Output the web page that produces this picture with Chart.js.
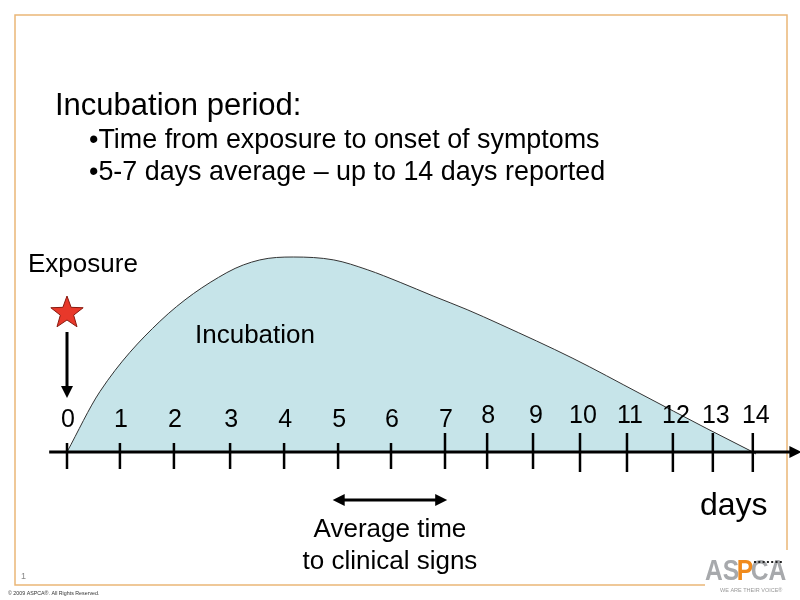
<!DOCTYPE html>
<html>
<head>
<meta charset="utf-8">
<script src="https://cdn.jsdelivr.net/npm/chart.js"></script>
<style>
  body { margin: 0; background: #fff; }
  #wrap { width: 800px; height: 600px; }
</style>
</head>
<body>
<div id="wrap"><canvas id="myChart" width="800" height="600"></canvas></div>
<script>
// day labels and where each one sits along the slide axis (axis units, day 0 = 0)
var dayLabels = ['0', '1', '2', '3', '4', '5', '6', '7', '8', '9', '10', '11', '12', '13', '14'];
var dayPos = [0, 0.98, 1.98, 3.02, 4.02, 5.02, 6.0, 7.0, 7.78, 8.63, 9.5, 10.37, 11.22, 11.96, 12.7];

// incubation curve (relative level, peak = 1)
var curveX = [0, 0.61, 1.72, 2.96, 3.57, 4.19, 4.94, 5.56, 6.17, 6.78, 7.41, 8.02, 9.37, 10.61, 11.85, 12.7];
var curveY = [0, 0.31, 0.67, 0.92, 0.985, 1.0, 0.985, 0.935, 0.87, 0.80, 0.73, 0.655, 0.48, 0.30, 0.12, 0];

// second stroke on the tail of the curve
var tailX = [10.5, 12.76];
var tailY = [0.29, -0.01];

// axis line extent and the "average time" span (days 5 to 7)
var axisX = [-0.33, 13.6];
var avgSpan = [4.92, 7.04];

var FONT = 'Arial, "Liberation Sans", sans-serif';

function toPoints(xs, ys) {
    var pts = [];
    for (var i = 0; i < xs.length; i++) {
        pts.push({x: xs[i], y: ys[i]});
    }
    return pts;
}

function drawStar(ctx, cx, cy, R, r) {
    ctx.save();
    ctx.beginPath();
    for (var i = 0; i < 10; i++) {
        var ang = -Math.PI / 2 + i * Math.PI / 5;
        var rad = (i % 2 == 0) ? R : r;
        var px = cx + rad * Math.cos(ang);
        var py = cy + rad * Math.sin(ang);
        if (i == 0) ctx.moveTo(px, py); else ctx.lineTo(px, py);
    }
    ctx.closePath();
    ctx.fillStyle = '#e8382a';
    ctx.fill();
    ctx.strokeStyle = '#8a1a10';
    ctx.lineWidth = 1;
    ctx.stroke();
    ctx.restore();
}

function arrowHead(ctx, x, y, dir, len, half) {
    // dir: 'right', 'left', 'down'
    ctx.beginPath();
    if (dir == 'right') { ctx.moveTo(x, y); ctx.lineTo(x - len, y - half); ctx.lineTo(x - len, y + half); }
    if (dir == 'left')  { ctx.moveTo(x, y); ctx.lineTo(x + len, y - half); ctx.lineTo(x + len, y + half); }
    if (dir == 'down')  { ctx.moveTo(x, y); ctx.lineTo(x - half, y - len); ctx.lineTo(x + half, y - len); }
    ctx.closePath();
    ctx.fillStyle = '#000';
    ctx.fill();
}

var slidePlugin = {
    id: 'slide',
    beforeDraw: function(chart) {
        var ctx = chart.ctx;
        ctx.save();
        ctx.fillStyle = '#fff';
        ctx.fillRect(0, 0, 800, 600);
        // orange frame, open at the logo corner
        ctx.strokeStyle = '#eab677';
        ctx.lineWidth = 1.5;
        ctx.beginPath();
        ctx.moveTo(705, 585);
        ctx.lineTo(15, 585);
        ctx.lineTo(15, 15);
        ctx.lineTo(787, 15);
        ctx.lineTo(787, 550);
        ctx.stroke();

        ctx.fillStyle = '#000';
        ctx.textAlign = 'left';
        ctx.textBaseline = 'alphabetic';
        ctx.font = '31px ' + FONT;
        ctx.fillText('Incubation period:', 55, 115);
        ctx.font = '26.9px ' + FONT;
        ctx.fillText('\u2022Time from exposure to onset of symptoms', 89, 148);
        ctx.fillText('\u20225-7 days average \u2013 up to 14 days reported', 89, 180);
        ctx.restore();
    },
    afterDatasetsDraw: function(chart) {
        var ctx = chart.ctx;
        var xs = chart.scales.x;
        var ys = chart.scales.y;
        var y0 = ys.getPixelForValue(0);
        ctx.save();

        // axis line with arrow
        var ax0 = xs.getPixelForValue(axisX[0]);
        var ax1 = xs.getPixelForValue(axisX[1]);
        ctx.strokeStyle = '#000';
        ctx.lineWidth = 3;
        ctx.beginPath();
        ctx.moveTo(ax0, y0);
        ctx.lineTo(ax1 - 8, y0);
        ctx.stroke();
        arrowHead(ctx, ax1, y0, 'right', 12, 6);

        // day ticks and labels
        ctx.font = '25px ' + FONT;
        ctx.textAlign = 'center';
        ctx.fillStyle = '#000';
        ctx.lineWidth = 2.5;
        for (var i = 0; i < dayPos.length; i++) {
            var tx = xs.getPixelForValue(dayPos[i]);
            var top = i < 7 ? y0 - 9 : y0 - 19;
            var bot = i < 10 ? y0 + 17 : y0 + 20;
            ctx.beginPath();
            ctx.moveTo(tx, top);
            ctx.lineTo(tx, bot);
            ctx.stroke();
            ctx.fillText(dayLabels[i], tx + (i > 8 ? 3 : 1), i <= 7 ? y0 - 25 : y0 - 29);
        }

        // exposure marker
        var x0 = xs.getPixelForValue(0);
        drawStar(ctx, x0, 313, 17, 7);
        ctx.strokeStyle = '#000';
        ctx.lineWidth = 3;
        ctx.beginPath();
        ctx.moveTo(x0, 332);
        ctx.lineTo(x0, 388);
        ctx.stroke();
        arrowHead(ctx, x0, 398, 'down', 12, 6);

        // average time span
        var a0 = xs.getPixelForValue(avgSpan[0]);
        var a1 = xs.getPixelForValue(avgSpan[1]);
        ctx.beginPath();
        ctx.moveTo(a0 + 8, 500);
        ctx.lineTo(a1 - 8, 500);
        ctx.stroke();
        arrowHead(ctx, a0, 500, 'left', 12, 6);
        arrowHead(ctx, a1, 500, 'right', 12, 6);

        ctx.fillStyle = '#000';
        ctx.font = '26px ' + FONT;
        ctx.textAlign = 'left';
        ctx.fillText('Exposure', 28, 272);
        ctx.fillText('Incubation', 195, 343);
        ctx.textAlign = 'center';
        ctx.fillText('Average time', (a0 + a1) / 2, 537);
        ctx.fillText('to clinical signs', (a0 + a1) / 2, 569);
        ctx.font = '32px ' + FONT;
        ctx.textAlign = 'left';
        ctx.fillText('days', 700, 515);

        // footer
        ctx.fillStyle = '#888';
        ctx.font = '9px ' + FONT;
        ctx.fillText('1', 21, 579);
        ctx.fillStyle = '#333';
        ctx.font = '5.3px ' + FONT;
        ctx.fillText('\u00a9 2009 ASPCA\u00ae. All Rights Reserved.', 8, 595);

        // logo
        ctx.save();
        ctx.translate(705, 580);
        ctx.scale(0.82, 1);
        ctx.font = 'bold 30px ' + FONT;
        ctx.textAlign = 'left';
        ctx.fillStyle = '#a7a9ac';
        ctx.fillText('AS', 0, 0);
        var w1 = ctx.measureText('AS').width - 3;
        ctx.fillStyle = '#f08a1c';
        ctx.fillText('P', w1, 0);
        var w2 = w1 + ctx.measureText('P').width - 3;
        ctx.fillStyle = '#a7a9ac';
        ctx.fillText('CA', w2, 0);
        ctx.restore();
        ctx.fillStyle = '#222';
        for (var d = 0; d < 7; d++) {
            ctx.fillRect(754 + d * 4.3, 561, 2, 2);
        }
        ctx.fillStyle = '#999';
        ctx.font = '5.5px ' + FONT;
        ctx.fillText('WE ARE THEIR VOICE\u00ae', 720, 592);

        ctx.restore();
    }
};

var ctx = document.getElementById('myChart').getContext('2d');
var myChart = new Chart(ctx, {
    type: 'line',
    data: {
        datasets: [{
            label: 'Incubation',
            data: toPoints(curveX, curveY),
            borderColor: '#333',
            borderWidth: 1,
            backgroundColor: '#c6e4e9',
            fill: 'origin',
            pointRadius: 0,
            cubicInterpolationMode: 'monotone',
            clip: false
        }, {
            label: 'tail',
            data: toPoints(tailX, tailY),
            borderColor: '#333',
            borderWidth: 1,
            fill: false,
            pointRadius: 0,
            clip: false
        }]
    },
    options: {
        responsive: false,
        animation: false,
        events: [],
        layout: { padding: 0 },
        plugins: {
            legend: { display: false },
            tooltip: { enabled: false }
        },
        scales: {
            x: { type: 'linear', display: false, min: -1.2407, max: 13.574 },
            y: { type: 'linear', display: false, min: -0.759, max: 2.318 }
        }
    },
    plugins: [slidePlugin]
});
</script>
</body>
</html>
